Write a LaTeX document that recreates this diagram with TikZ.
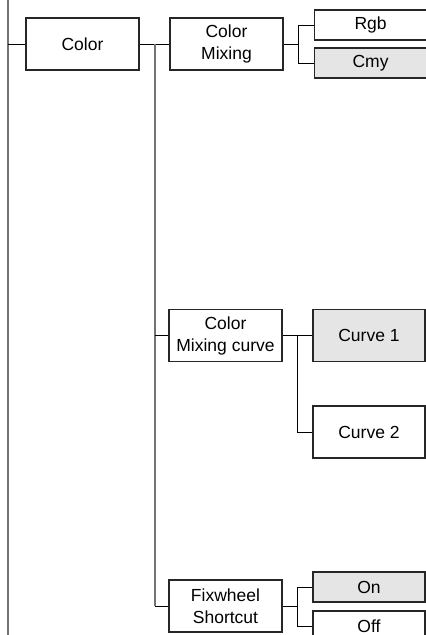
\documentclass[tikz,border=0pt]{standalone}
\usepackage{fontspec}
\setmainfont{Liberation Sans}
\begin{document}
\begin{tikzpicture}[x=1pt,y=-1pt,
  box/.style={draw=black!85,line width=1.1pt,rectangle,inner sep=0pt,align=center,
    font=\fontsize{17.5}{22}\selectfont},
  big/.style={box,minimum width=113pt,minimum height=52pt},
  small/.style={box,minimum width=112pt,minimum height=30pt},
  sel/.style={fill=black!10},
  trunk/.style={draw=black!55,line width=2pt},
  conn/.style={draw=black,line width=1pt}]
\useasboundingbox (0,0) rectangle (426,635);
\clip (0,0) rectangle (426,635);
\node[big] (color) at (82.5,44) {Color};
\node[big] (cmix) at (226.5,44) {Color\\Mixing};
\node[small,minimum width=120pt,anchor=west] (rgb) at (314,25) {\hspace*{-8pt}Rgb};
\node[small,sel,minimum width=120pt,anchor=west] (cmy) at (314,63) {\hspace*{-8pt}Cmy};
\node[big] (cmc) at (225.5,335.5) {Color\\Mixing curve};
\node[big,sel,minimum width=112pt] (c1) at (369,335.5) {Curve 1};
\node[big,minimum width=112pt] (c2) at (369,432) {Curve 2};
\node[big] (fix) at (225.5,606) {Fixwheel\\Shortcut};
\node[small,sel] (on) at (369,587) {On};
\node[small] (off) at (369,626) {Off};
\coordinate (ltop) at (8,0);
\coordinate (lbot) at (8,636);
\coordinate (lmid) at (8,44);
\coordinate (ttop) at (155,44);
\coordinate (tbot) at (155,606);
\coordinate (tmid) at (155,335.5);
\coordinate (j1) at (298,44);
\coordinate (j1a) at (298,25);
\coordinate (j1b) at (298,63);
\coordinate (j2) at (297,335.5);
\coordinate (j2b) at (297,432);
\coordinate (j3) at (297,606);
\coordinate (j3a) at (297,587);
\coordinate (j3b) at (297,626);
\draw[trunk] (ltop) -- (lbot);
\draw[conn] (lmid) -- (color.west);
\draw[conn] (color.east) -- (cmix.west);
\draw[trunk] (ttop) -- (tbot);
\draw[conn] (tmid) -- (cmc.west);
\draw[conn] (tbot) -- (fix.west);
\draw[conn] (cmix.east) -- (j1);
\draw[conn] (rgb.west) -- (j1a) -- (j1b) -- (cmy.west);
\draw[conn] (cmc.east) -- (c1.west);
\draw[conn] (j2) -- (j2b) -- (c2.west);
\draw[conn] (fix.east) -- (j3);
\draw[conn] (on.west) -- (j3a) -- (j3b) -- (off.west);
\end{tikzpicture}
\end{document}
